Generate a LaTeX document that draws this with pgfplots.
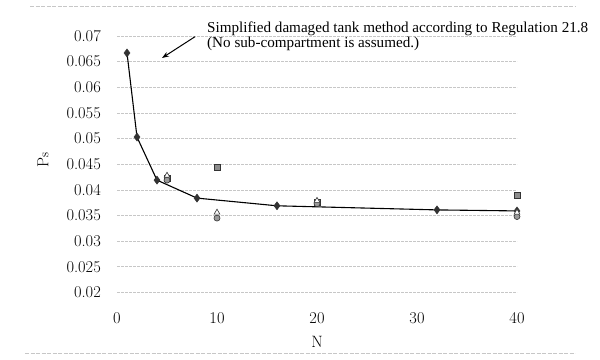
\documentclass[border=0pt]{standalone}
\usepackage{fontspec}
\usepackage{pgfplots}
\pgfplotsset{compat=1.18}
\usetikzlibrary{arrows.meta}
\newfontfamily\timesfont{Liberation Serif}
\definecolor{gridc}{gray}{0.78}
\definecolor{mk}{gray}{0.2}
\definecolor{sqf}{gray}{0.55}
\definecolor{cif}{gray}{0.6}
\begin{document}
\begin{tikzpicture}
\useasboundingbox (0,0) rectangle (600bp,360bp);
% faint chart-area border lines
\draw[gridc, line width=0.6bp, dash pattern=on 4bp off 1.5bp] (30bp,354bp) -- (575bp,354bp);
\draw[gridc, line width=0.6bp, dash pattern=on 4bp off 1.5bp] (25bp,7bp) -- (575bp,7bp);
\begin{axis}[
  at={(117bp,67.5bp)}, anchor=south west,
  x=10bp, y=5130bp,
  xmin=0, xmax=40, ymin=0.02, ymax=0.07,
  clip=false,
  scaled y ticks=false,
  axis line style={draw=none},
  tick style={draw=none},
  ymajorgrids=true,
  grid style={gridc, line width=0.7bp, dash pattern=on 3bp off 1bp},
  xtick={0,10,20,30,40},
  ytick={0.02,0.025,0.03,0.035,0.04,0.045,0.05,0.055,0.06,0.065,0.07},
  yticklabels={0.02,0.025,0.03,0.035,0.04,0.045,0.05,0.055,0.06,0.065,0.07},
  xticklabels={0,10,20,30,40},
  yticklabel style={font=\fontsize{16.5}{18}\selectfont, inner sep=0pt, anchor=east, xshift=-16bp},
  xticklabel style={font=\fontsize{16.5}{18}\selectfont, inner sep=0pt, anchor=center, yshift=-25.5bp},
]
\addplot[black, line width=1.1bp, mark=diamond*, mark size=4bp, mark options={fill=mk, draw=mk, line width=0.5bp}]
  coordinates {(1,0.0667) (2,0.0503) (4,0.0419) (8,0.0384) (16,0.0369) (32,0.0361) (40,0.0359)};
\addplot[only marks, mark=square*, mark size=3bp, mark options={fill=sqf, draw=mk, line width=0.6bp}]
  coordinates {(5,0.0423) (10,0.0445) (20,0.0375) (40,0.0390)};
\addplot[only marks, mark=*, mark size=3bp, mark options={fill=cif, draw=mk, line width=0.6bp}]
  coordinates {(5,0.0419) (10,0.0345) (20,0.0373) (40,0.0348)};
\addplot[only marks, mark=triangle*, mark size=3.3bp, mark options={fill=white, draw=mk, line width=0.6bp}]
  coordinates {(5,0.0428) (10,0.0356) (20,0.0379) (40,0.0356)};
\end{axis}
% axis titles
\node[font=\fontsize{16.5}{18}\selectfont, inner sep=0pt] at (317bp,18.3bp) {N};
\node[rotate=90, inner sep=0pt] at (43bp,200bp) {\fontsize{16}{17}\selectfont P{\fontsize{13}{13}\selectfont s}};
% annotation
\node[font=\timesfont\fontsize{15.2}{14}\selectfont, inner sep=0pt, text height=0.68em, text depth=0.2em, anchor=base west] at (207bp,327bp) {Simplified damaged tank method according to Regulation 21.8};
\node[font=\timesfont\fontsize{15.2}{14}\selectfont, inner sep=0pt, text height=0.68em, text depth=0.2em, anchor=base west] at (207bp,312.5bp) {(No sub-compartment is assumed.)};
\draw[black, line width=1bp, -{Stealth[length=7bp,width=5bp]}] (195bp,323.3bp) -- (162bp,302bp);
\end{tikzpicture}
\end{document}
